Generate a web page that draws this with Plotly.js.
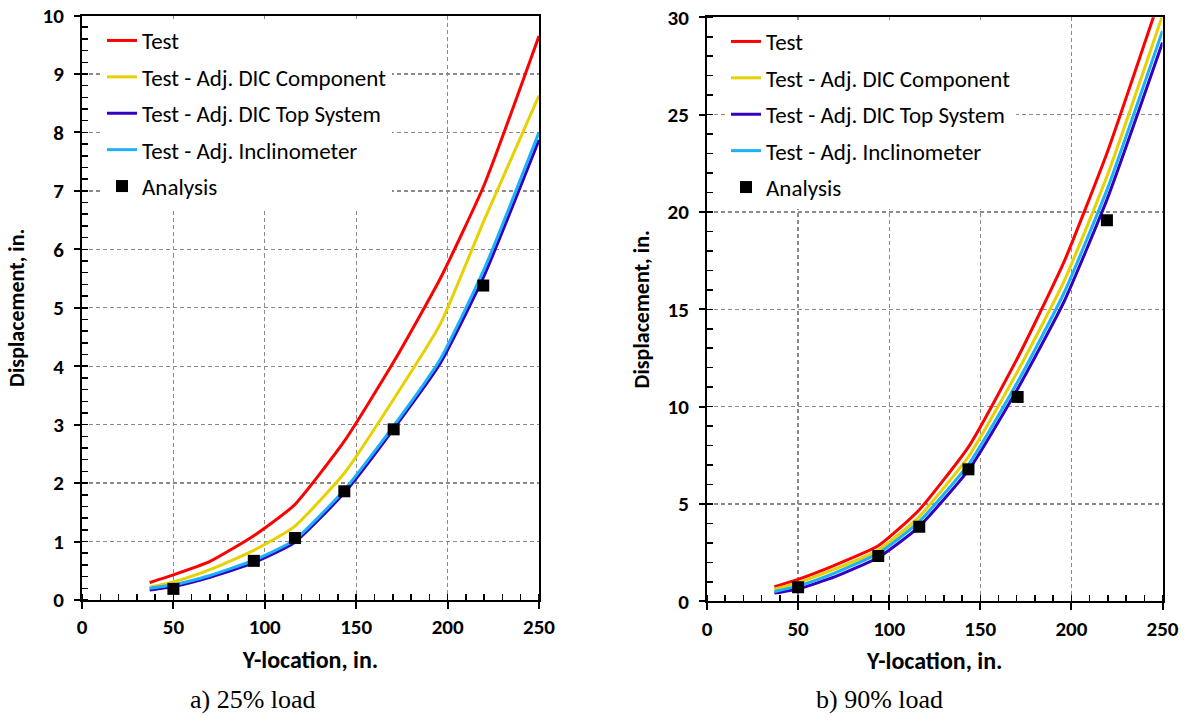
<!DOCTYPE html>
<html>
<head>
<meta charset="utf-8">
<script src="https://cdn.plot.ly/plotly-3.0.1.min.js"></script>
<style>
  html, body { margin: 0; padding: 0; background: #fff; }
  #chart { width: 1191px; height: 717px; }
</style>
</head>
<body>
<div id="chart"></div>
<script>
// Measurement stations along the height (in.)
const yLoc = [37, 50, 70, 94, 116, 144, 171, 196, 220, 250];

// 25% load: lateral displacement (in.)
const test25        = [0.30, 0.43, 0.66, 1.10, 1.62, 2.74, 4.10, 5.50, 7.10, 9.65];
const adjDicComp25  = [0.22, 0.31, 0.52, 0.85, 1.25, 2.19, 3.46, 4.72, 6.50, 8.63];
const adjDicTop25   = [0.17, 0.23, 0.39, 0.64, 0.98, 1.85, 2.95, 4.05, 5.55, 7.87];
const adjIncl25     = [0.20, 0.26, 0.42, 0.68, 1.02, 1.90, 3.00, 4.12, 5.66, 8.00];

// 90% load: lateral displacement (in.)
const test90        = [0.75, 1.13, 1.85, 2.85, 4.65, 8.00, 12.60, 17.45, 23.15, 31.40];
const adjDicComp90  = [0.62, 0.96, 1.65, 2.63, 4.30, 7.50, 11.90, 16.45, 21.95, 30.10];
const adjDicTop90   = [0.42, 0.63, 1.25, 2.25, 3.80, 6.80, 11.00, 15.40, 20.75, 28.70];
const adjIncl90     = [0.50, 0.79, 1.45, 2.46, 4.05, 7.10, 11.35, 15.85, 21.25, 29.30];

// Analysis predictions
const anaLoc = [50, 94, 116.5, 143.5, 170.5, 219.5];
const ana25  = [0.19, 0.67, 1.06, 1.86, 2.92, 5.38];
const ana90  = [0.72, 2.33, 3.83, 6.78, 10.50, 19.58];

const names = ['Test', 'Test - Adj. DIC Component', 'Test - Adj. DIC Top System', 'Test - Adj. Inclinometer', 'Analysis'];
const colors = ['#ff0000', '#e6d200', '#3300c4', '#1cb0f6'];

const W = 1191, H = 717;
const fx = px => px / W;
const fy = px => 1 - px / H;

function curveTraces(series, xa, ya, leg) {
  return series.map((ys, i) => ({
    type: 'scatter', mode: 'lines', x: yLoc, y: ys, name: names[i],
    xaxis: xa, yaxis: ya, legend: leg, legendgroup: leg + i,
    line: { color: colors[i], width: 3, shape: 'spline', smoothing: 0.5 }
  }));
}

const traces = [
  ...curveTraces([test25, adjDicComp25, adjDicTop25, adjIncl25], 'x', 'y', 'legend'),
  { type: 'scatter', mode: 'markers', x: anaLoc, y: ana25, name: names[4],
    xaxis: 'x', yaxis: 'y', legend: 'legend', legendgroup: 'legend4',
    marker: { symbol: 'square', size: 12, color: '#000' } },
  ...curveTraces([test90, adjDicComp90, adjDicTop90, adjIncl90], 'x2', 'y2', 'legend2'),
  { type: 'scatter', mode: 'markers', x: anaLoc, y: ana90, name: names[4],
    xaxis: 'x2', yaxis: 'y2', legend: 'legend2', legendgroup: 'legend24',
    marker: { symbol: 'square', size: 12, color: '#000' } }
];

const tickFont = { family: 'Carlito, Lato, sans-serif', size: 21, color: '#000', weight: 'bold' };
const xTitleFont = { family: 'Carlito, Lato, sans-serif', size: 24, color: '#000', weight: 'bold' };
const yTitleFont = { family: 'Carlito, Lato, sans-serif', size: 22, color: '#000', weight: 'bold' };
const legendFont = { family: 'Carlito, Lato, sans-serif', size: 23, color: '#000' };
const captionFont = { family: 'Liberation Serif, serif', size: 26, color: '#000' };

function xAxis(domain, anchor) {
  return {
    domain, anchor, range: [0, 250], dtick: 50, tick0: 0,
    showline: true, linecolor: '#000', linewidth: 2, mirror: true,
    ticks: 'outside', ticklen: 7, tickwidth: 2, tickcolor: '#000',
    minor: { dtick: 10, ticks: 'inside', ticklen: 6, tickwidth: 1.5, tickcolor: '#000', showgrid: false },
    showgrid: true, gridcolor: '#8a8a8a', gridwidth: 1.3, griddash: '4px,3px',
    zeroline: false, tickfont: tickFont, ticklabelstandoff: 0,
    title: { text: 'Y-location, in.', font: xTitleFont, standoff: 12 }
  };
}
function yAxis(domain, anchor, max, dt, mdt) {
  return {
    domain, anchor, range: [0, max], dtick: dt, tick0: 0,
    showline: true, linecolor: '#000', linewidth: 2, mirror: true,
    ticks: 'outside', ticklen: 6, tickwidth: 2, tickcolor: '#000',
    minor: { dtick: mdt, ticks: 'inside', ticklen: 6, tickwidth: 1.5, tickcolor: '#000', showgrid: false },
    showgrid: true, gridcolor: '#8a8a8a', gridwidth: 1.3, griddash: '4px,3px',
    zeroline: false, tickfont: tickFont, ticklabelstandoff: 6,
    title: { text: 'Displacement, in.', font: yTitleFont, standoff: 12 }
  };
}

const legendBase = {
  bgcolor: '#fff', borderwidth: 0, font: legendFont,
  xanchor: 'left', yanchor: 'top', traceorder: 'grouped', tracegroupgap: 3.5,
  itemwidth: 30
};

const layout = {
  width: W, height: H,
  margin: { l: 0, r: 0, t: 0, b: 0 },
  paper_bgcolor: '#fff', plot_bgcolor: '#fff',
  xaxis: xAxis([fx(82), fx(539)], 'y'),
  yaxis: yAxis([fy(600), fy(15.5)], 'x', 10, 1, 0.2),
  xaxis2: xAxis([fx(707), fx(1162.5)], 'y2'),
  yaxis2: yAxis([fy(601.3), fy(17.3)], 'x2', 30, 5, 1),
  legend: Object.assign({}, legendBase, { x: fx(102), y: fy(19) }),
  legend2: Object.assign({}, legendBase, { x: fx(726), y: fy(20) }),
  annotations: [
    { text: 'a) 25% load', xref: 'paper', yref: 'paper', x: fx(253), y: fy(699),
      xanchor: 'center', yanchor: 'middle', showarrow: false, font: captionFont },
    { text: 'b) 90% load', xref: 'paper', yref: 'paper', x: fx(879), y: fy(699),
      xanchor: 'center', yanchor: 'middle', showarrow: false, font: captionFont }
  ],
  showlegend: true
};

Plotly.newPlot('chart', traces, layout, { staticPlot: true, displayModeBar: false });
</script>
</body>
</html>
